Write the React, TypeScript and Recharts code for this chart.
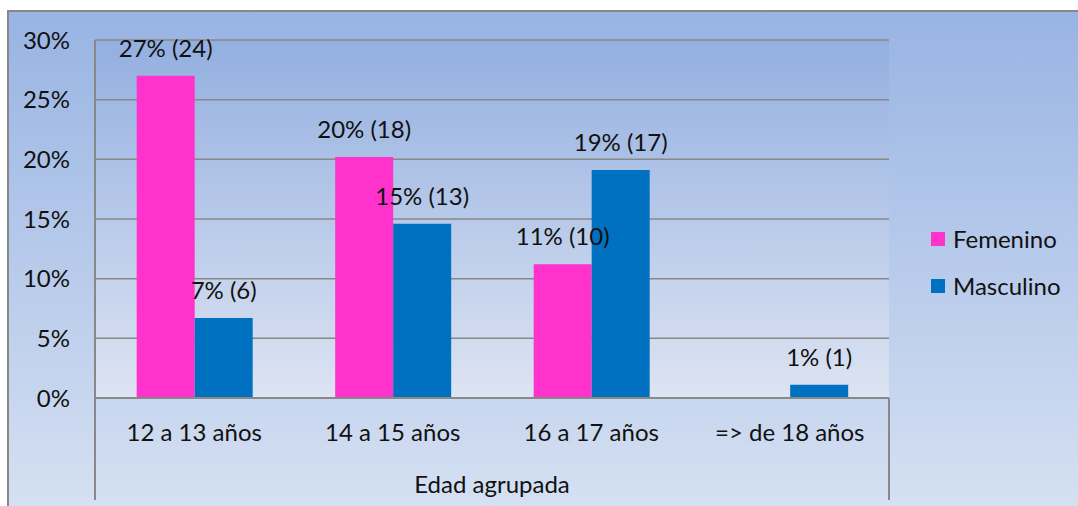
import { Bar, BarChart, CartesianGrid, LabelList, Legend, XAxis, YAxis, usePlotArea } from "recharts";

const categories = ["12 a 13 años", "14 a 15 años", "16 a 17 años", "=> de 18 años"];
const femenino = [27, 20.2, 11.2, 0];
const masculino = [6.7, 14.6, 19.1, 1.1];
const femeninoLabels = ["27% (24)", "20% (18)", "11% (10)", ""];
const masculinoLabels = ["7% (6)", "15% (13)", "19% (17)", "1% (1)"];
const yTicks = [0, 5, 10, 15, 20, 25, 30];

const seriesColors = { femenino: "#ff33cc", masculino: "#0070c0" };
const font = "Lato, 'Open Sans', sans-serif";
const fontSize = 24;
const lineGray = "#888888";

const data = categories.map((name, i) => ({
  name,
  femenino: femenino[i],
  masculino: masculino[i],
  femLabel: femeninoLabels[i],
  mascLabel: masculinoLabels[i]
}));

function FrameLines() {
  const plot = usePlotArea();
  if (!plot) return null;
  const bottom = plot.y + plot.height;
  return (
    <g>
      <line x1={plot.x} x2={plot.x} y1={plot.y} y2={bottom + 102} stroke={lineGray} strokeWidth={2} />
      <line
        x1={plot.x + plot.width}
        x2={plot.x + plot.width}
        y1={bottom}
        y2={bottom + 102}
        stroke={lineGray}
        strokeWidth={2}
      />
    </g>
  );
}

// plain text above the bar, no wrapping
function BarLabel(props: any) {
  const { x, y, width, value } = props;
  if (!value) return null;
  return (
    <text
      x={Number(x) + Number(width) / 2}
      y={Number(y) - 19}
      textAnchor="middle"
      fill="#111"
      fontSize={fontSize}
      fontFamily={font}
    >
      {value}
    </text>
  );
}

function LegendBox() {
  const items = [
    { label: "Femenino", color: seriesColors.femenino },
    { label: "Masculino", color: seriesColors.masculino }
  ];
  return (
    <div style={{ fontFamily: font, fontSize, color: "#111", width: 140 }}>
      {items.map((it) => (
        <div key={it.label} style={{ display: "flex", alignItems: "center", height: 47 }}>
          <span style={{ width: 14, height: 14, background: it.color, marginRight: 8, flex: "none" }} />
          {it.label}
        </div>
      ))}
    </div>
  );
}

export default function App() {
  return (
    <div style={{ position: "absolute", left: 0, top: 0, width: 1078, height: 506, background: "#fff" }}>
      <div
        style={{
          position: "absolute",
          left: 7,
          top: 10,
          right: 0,
          bottom: 0,
          borderTop: `2px solid ${lineGray}`,
          borderLeft: `2px solid ${lineGray}`,
          background: "linear-gradient(180deg, #98b4e3 0%, #d5e0f2 100%)"
        }}
      />
      <div style={{ position: "absolute", left: 0, top: 0 }}>
        <BarChart
          width={1078}
          height={506}
          data={data}
          margin={{ top: 40, right: 49, left: 0, bottom: 0 }}
          barCategoryGap="21%"
          barGap={0}
        >
          <defs>
            <linearGradient id="plotBg" x1="0" y1="0" x2="0" y2="1">
              <stop offset="0%" stopColor="#93afe0" />
              <stop offset="100%" stopColor="#dde4f2" />
            </linearGradient>
          </defs>
          <CartesianGrid
            vertical={false}
            stroke={lineGray}
            strokeWidth={1.5}
            fill="url(#plotBg)"
            fillOpacity={1}
          />
          <XAxis
            dataKey="name"
            height={108}
            tickSize={0}
            tickMargin={26}
            axisLine={{ stroke: lineGray, strokeWidth: 2 }}
            tick={{ fill: "#111", fontSize, fontFamily: font }}
            label={{
              value: "Edad agrupada",
              position: "insideBottom",
              offset: 13,
              fill: "#111",
              fontSize,
              fontFamily: font
            }}
          />
          <YAxis
            width={95}
            domain={[0, 30]}
            ticks={yTicks}
            tickFormatter={(v) => `${v}%`}
            tickSize={0}
            tickMargin={25}
            axisLine={false}
            tick={{ fill: "#111", fontSize, fontFamily: font }}
          />
          <Legend
            layout="vertical"
            align="right"
            verticalAlign="middle"
            width={140}
            content={<LegendBox />}
            wrapperStyle={{ left: 931, top: 215, right: "auto", width: 140 }}
          />
          <Bar dataKey="femenino" name="Femenino" fill={seriesColors.femenino} isAnimationActive={false}>
            <LabelList dataKey="femLabel" content={<BarLabel />} />
          </Bar>
          <Bar dataKey="masculino" name="Masculino" fill={seriesColors.masculino} isAnimationActive={false}>
            <LabelList dataKey="mascLabel" content={<BarLabel />} />
          </Bar>
          <FrameLines />
        </BarChart>
      </div>
    </div>
  );
}
